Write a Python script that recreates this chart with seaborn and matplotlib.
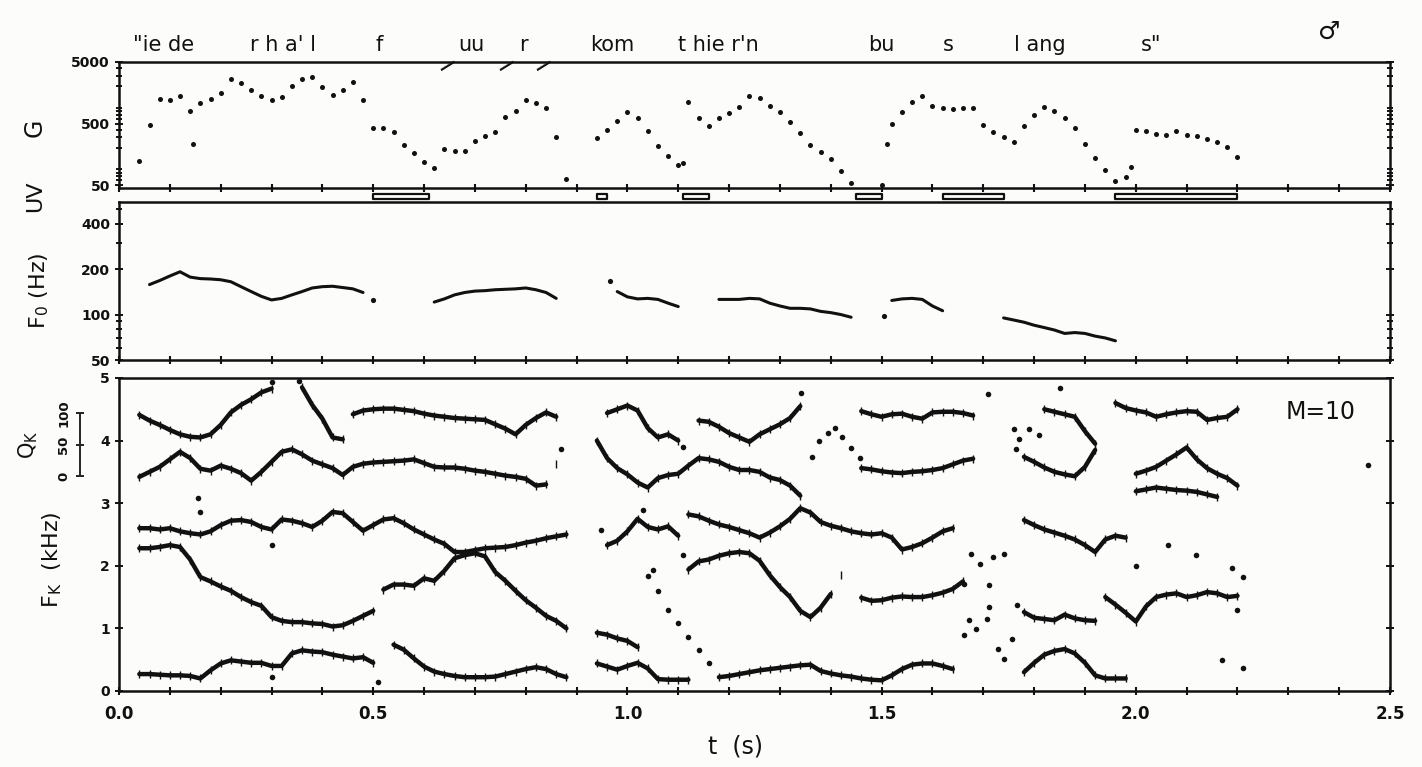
import numpy as np
import pandas as pd
import matplotlib
matplotlib.use("Agg")
import matplotlib.pyplot as plt
import matplotlib.ticker as mticker
import matplotlib.transforms as mtrans
import seaborn as sns

nan = np.nan
# sampling grid (s)
T = np.round(np.arange(0.04, 2.2001, 0.02), 2)

# ---------------- G (gain) ----------------
G_vals = [125, 470, 1250, 1200, 1400, 790, 1080, 1250, 1580, 2600,
          2300, 1780, 1400, 1200, 1330, 2000, 2650, 2850, 1950, 1450,
          1780, 2400, 1200, 430, 420, 360, 225, 165, 118, 95,
          190, 180, 180, 265, 310, 370, 640, 810, 1220, 1080,
          900, 300, 63, nan, nan, 290, 400, 560, 760, 620,
          380, 220, 150, 108, 1100, 605, 450, 605, 730, 940,
          1380, 1280, 970, 760, 540, 355, 225, 170, 135, 85,
          54, nan, nan, 51, 500, 760, 1120, 1400, 960, 890,
          850, 880, 900, 480, 370, 300, 250, 450, 700, 920,
          790, 605, 430, 232, 140, 88, 59, 68, 400, 380,
          340, 330, 380, 330, 310, 285, 255, 208, 141]
g_stray_t = [0.145, 1.11, 1.51, 1.99]
g_stray_v = [232, 115, 232, 100]

# unvoiced intervals (s)
uv_start = [0.50, 0.94, 1.11, 1.45, 1.62, 1.96]
uv_end = [0.61, 0.96, 1.16, 1.50, 1.74, 2.20]

# ---------------- F0 (Hz) ----------------
F0_vals = [nan, 158, 168, 180, 192, 177, 173, 172, 170, 165,
           153, 142, 132, 125, 128, 135, 142, 150, 153, 154,
           151, 148, 140, nan, nan, nan, nan, nan, nan, 121,
           127, 135, 140, 143, 144, 146, 147, 148, 150, 146,
           140, 128, nan, nan, nan, nan, nan, 142, 131, 127,
           128, 126, 119, 113, nan, nan, nan, 126, 126, 126,
           128, 127, 119, 114, 110, 110, 109, 105, 103, 100,
           96, nan, nan, nan, 124, 127, 128, 126, 114, 106,
           nan, nan, nan, nan, nan, 95, 92, 89, 85, 82,
           79, 75, 76, 75, 72, 70, 67, nan, nan, nan,
           nan, nan, nan, nan, nan, nan, nan, nan, nan]
f0_stray_t = [0.50, 0.965, 1.505]
f0_stray_v = [125, 166, 98]

# ---------------- formant tracks (kHz) ----------------
track1 = [0.27, 0.27, 0.26, 0.25, 0.25, 0.24, 0.20, 0.33, 0.44, 0.49,
          0.47, 0.45, 0.45, 0.40, 0.40, 0.60, 0.65, 0.63, 0.62, 0.58,
          0.55, 0.52, 0.54, 0.45, nan, 0.74, 0.66, 0.52, 0.39, 0.31,
          0.27, 0.24, 0.22, 0.22, 0.22, 0.23, 0.27, 0.31, 0.35, 0.38,
          0.35, 0.27, 0.22, nan, nan, 0.44, 0.39, 0.34, 0.40, 0.45,
          0.36, 0.19, 0.18, 0.18, 0.18, nan, nan, 0.22, 0.24, 0.27,
          0.30, 0.33, 0.35, 0.37, 0.39, 0.41, 0.42, 0.32, 0.28, 0.25,
          0.23, 0.20, 0.18, 0.17, 0.25, 0.35, 0.42, 0.44, 0.44, 0.40,
          0.35, nan, nan, nan, nan, nan, nan, 0.30, 0.45, 0.58,
          0.64, 0.67, 0.60, 0.45, 0.25, 0.20, 0.20, 0.20, nan, nan,
          nan, nan, nan, nan, nan, nan, nan, nan, nan]
track2 = [2.28, 2.28, 2.30, 2.33, 2.30, 2.10, 1.82, 1.75, 1.67, 1.60,
          1.50, 1.42, 1.36, 1.18, 1.12, 1.10, 1.10, 1.08, 1.07, 1.03,
          1.05, 1.12, 1.20, 1.28, 1.62, 1.70, 1.70, 1.68, 1.80, 1.76,
          1.92, 2.12, 2.17, 2.20, 2.15, 1.90, 1.76, 1.60, 1.45, 1.33,
          1.20, 1.12, 1.00, nan, nan, 0.93, 0.90, 0.84, 0.80, 0.70,
          nan, nan, nan, nan, 1.94, 2.07, 2.10, 2.16, 2.20, 2.22,
          2.20, 2.08, 1.85, 1.66, 1.50, 1.28, 1.18, 1.33, 1.55, 1.85,
          nan, 1.49, 1.44, 1.45, 1.49, 1.51, 1.50, 1.50, 1.53, 1.57,
          1.63, 1.75, nan, nan, nan, nan, nan, 1.26, 1.17, 1.15,
          1.13, 1.22, 1.16, 1.13, 1.12, 1.50, 1.38, 1.25, 1.11, 1.35,
          1.50, 1.54, 1.56, 1.50, 1.53, 1.58, 1.56, 1.50, 1.52]
track3 = [2.60, 2.60, 2.58, 2.60, 2.55, 2.52, 2.50, 2.55, 2.65, 2.72,
          2.73, 2.70, 2.62, 2.58, 2.74, 2.72, 2.68, 2.62, 2.72, 2.86,
          2.84, 2.70, 2.56, 2.65, 2.74, 2.76, 2.68, 2.58, 2.50, 2.42,
          2.35, 2.22, 2.22, 2.25, 2.28, 2.29, 2.30, 2.33, 2.37, 2.40,
          2.44, 2.47, 2.50, nan, nan, nan, 2.33, 2.40, 2.55, 2.75,
          2.62, 2.58, 2.63, 2.48, 2.82, 2.79, 2.72, 2.66, 2.62, 2.57,
          2.52, 2.45, 2.53, 2.63, 2.75, 2.92, 2.85, 2.70, 2.64, 2.60,
          2.55, 2.52, 2.50, 2.52, 2.45, 2.26, 2.30, 2.36, 2.45, 2.55,
          2.60, nan, nan, nan, nan, nan, nan, 2.73, 2.65, 2.58,
          2.53, 2.48, 2.42, 2.33, 2.22, 2.42, 2.48, 2.45, 3.47, 3.52,
          3.58, 3.68, 3.78, 3.89, 3.70, 3.56, 3.47, 3.40, 3.28]
track4 = [3.42, 3.50, 3.58, 3.70, 3.82, 3.72, 3.55, 3.52, 3.60, 3.55,
          3.48, 3.36, 3.50, 3.66, 3.82, 3.86, 3.78, 3.68, 3.62, 3.56,
          3.45, 3.58, 3.63, 3.65, 3.66, 3.67, 3.68, 3.70, 3.64, 3.58,
          3.57, 3.57, 3.55, 3.52, 3.50, 3.47, 3.44, 3.42, 3.39, 3.28,
          3.30, 3.62, nan, nan, nan, 4.00, 3.72, 3.56, 3.46, 3.33,
          3.25, 3.40, 3.45, 3.47, 3.60, 3.72, 3.70, 3.66, 3.58, 3.53,
          3.53, 3.50, 3.41, 3.37, 3.28, 3.12, nan, nan, nan, nan,
          nan, 3.56, 3.54, 3.51, 3.49, 3.48, 3.50, 3.51, 3.53, 3.56,
          3.62, 3.68, 3.71, nan, nan, nan, nan, 3.74, 3.66, 3.57,
          3.50, 3.46, 3.43, 3.58, 3.85, nan, nan, nan, 3.19, 3.22,
          3.25, 3.23, 3.21, 3.20, 3.18, 3.14, 3.10, nan, nan]
track5 = [4.41, 4.32, 4.25, 4.17, 4.10, 4.06, 4.05, 4.10, 4.25, 4.45,
          4.57, 4.66, 4.77, 4.83, nan, nan, 4.85, 4.57, 4.35, 4.05,
          4.02, 4.42, 4.48, 4.50, 4.51, 4.51, 4.49, 4.47, 4.43, 4.40,
          4.38, 4.36, 4.35, 4.34, 4.33, 4.26, 4.19, 4.10, 4.25, 4.36,
          4.45, 4.38, nan, nan, nan, nan, 4.44, 4.50, 4.56, 4.48,
          4.20, 4.05, 4.10, 4.00, nan, 4.32, 4.30, 4.22, 4.12, 4.05,
          3.98, 4.10, 4.18, 4.26, 4.36, 4.55, nan, nan, nan, nan,
          nan, 4.47, 4.42, 4.38, 4.42, 4.43, 4.38, 4.35, 4.45, 4.46,
          4.46, 4.44, 4.40, nan, nan, nan, nan, nan, nan, 4.50,
          4.46, 4.42, 4.38, 4.15, 3.95, nan, 4.60, 4.52, 4.48, 4.45,
          4.38, 4.42, 4.45, 4.47, 4.46, 4.33, 4.36, 4.38, 4.50]
fk_stray_t = [0.155, 0.16, 0.30, 0.30, 0.30, 0.355, 0.51, 0.87, 0.948, 1.03, 1.05, 1.11, 1.11,
              1.04, 1.06, 1.08, 1.10, 1.12, 1.14, 1.16,
              1.342, 1.364, 1.377, 1.395, 1.408, 1.422, 1.44, 1.458,
              1.662, 1.662, 1.671, 1.676, 1.685, 1.693, 1.707, 1.711, 1.711, 1.72, 1.729, 1.74, 1.74, 1.756, 1.766,
              1.71, 1.76, 1.765, 1.77, 1.79, 1.81, 1.85,
              2.0, 2.063, 2.118, 2.17, 2.19, 2.21, 2.21, 2.2, 2.457]
fk_stray_v = [3.08, 2.86, 2.33, 0.22, 4.93, 4.95, 0.15, 3.86, 2.57, 2.89, 1.94, 3.90, 2.18,
              1.83, 1.59, 1.30, 1.09, 0.87, 0.66, 0.45,
              4.76, 3.73, 4.00, 4.12, 4.20, 4.06, 3.88, 3.72,
              0.89, 1.71, 1.13, 2.19, 0.99, 2.03, 1.15, 1.34, 1.69, 2.14, 0.67, 2.19, 0.51, 0.83, 1.37,
              4.74, 4.18, 3.86, 4.03, 4.18, 4.09, 4.84,
              2.0, 2.33, 2.17, 0.49, 1.97, 1.82, 0.36, 1.29, 3.61]

# transcription above the plot
words = ['"ie de', "r h a' l", 'f', 'uu', 'r', 'kom', "t hie r'n", 'bu', 's', 'l ang', 's"']
word_t = [0.027, 0.258, 0.505, 0.668, 0.787, 0.926, 1.10, 1.474, 1.62, 1.76, 2.01]

g_ticks, g_labels = [50, 500, 5000], ['50', '500', '5000']
f0_ticks, f0_labels = [50, 100, 200, 400], ['50', '100', '200', '400']
fk_ticks = [0, 1, 2, 3, 4, 5]
q_ticks = [0, 50, 100]


def segments(t, v, jump=None):
    rows, seg, prev = [], 0, None
    for ti, vi in zip(t, v):
        if np.isnan(vi):
            prev = None
            continue
        if prev is None or (jump is not None and abs(vi - prev) > jump):
            seg += 1
        rows.append((ti, vi, seg))
        prev = vi
    return pd.DataFrame(rows, columns=["t", "v", "seg"])


sns.set_theme(style="ticks")
plt.rcParams["font.family"] = ["DejaVu Sans"]
INK = "#111111"
BG = "#fcfcfa"

fig = plt.figure(figsize=(14.22, 7.67), dpi=100)
fig.patch.set_facecolor(BG)
L, W = 119 / 1422, 1271 / 1422
axG = fig.add_axes([L, 0.7549, W, 0.1643])
axUV = fig.add_axes([L, 0.7366, W, 0.0183])
axF0 = fig.add_axes([L, 0.5306, W, 0.2066])
axFK = fig.add_axes([L, 0.0991, W, 0.4081])

xt = np.round(np.arange(0, 2.5001, 0.1), 1)
for ax in (axG, axF0, axFK):
    ax.set_facecolor(BG)
    ax.set_xlim(0, 2.5)
    for s in ax.spines.values():
        s.set_visible(True)
        s.set_linewidth(1.8)
        s.set_color(INK)
    ax.xaxis.set_major_locator(mticker.FixedLocator(xt))
    ax.tick_params(axis="x", direction="inout", length=6, width=1.5, color=INK,
                   top=False, labelbottom=False)
    ax.tick_params(axis="y", which="both", direction="inout", color=INK,
                   left=True, right=True, width=1.4, labelsize=10)
    ax.tick_params(axis="y", which="major", length=6)
    ax.tick_params(axis="y", which="minor", length=4)

# ---- G panel
dG = pd.DataFrame({"t": T, "v": G_vals}).dropna()
sns.scatterplot(data=dG, x="t", y="v", s=13, color=INK, linewidth=0, ax=axG, legend=False)
sns.scatterplot(x=g_stray_t, y=g_stray_v, s=13, color=INK, linewidth=0, ax=axG, legend=False)
axG.set_yscale("log")
axG.set_ylim(45, 5000)
axG.yaxis.set_major_locator(mticker.FixedLocator(g_ticks))
axG.yaxis.set_major_formatter(mticker.FixedFormatter(g_labels))
axG.yaxis.set_minor_locator(mticker.LogLocator(base=10, subs=np.arange(2, 10)))
axG.yaxis.set_minor_formatter(mticker.NullFormatter())
trTop = mtrans.blended_transform_factory(axG.transData, axG.transAxes)
for tt in (0.647, 0.763, 0.836):
    axG.text(tt, 0.97, "\u2014", transform=trTop, rotation=32, fontsize=13,
             fontweight="bold", color=INK, ha="center", va="center")

# ---- UV strip
axUV.set_xlim(0, 2.5)
axUV.set_ylim(0, 1)
axUV.axis("off")
axUV.broken_barh([(s, e - s) for s, e in zip(uv_start, uv_end)], (0.2, 0.35),
                 facecolors=BG, edgecolors=INK, linewidth=1.6)

# ---- F0 panel
dF0 = segments(T, F0_vals)
sns.lineplot(data=dF0, x="t", y="v", units="seg", estimator=None, color=INK, lw=2.2,
             ax=axF0, legend=False)
sns.scatterplot(x=f0_stray_t, y=f0_stray_v, s=14, color=INK, linewidth=0, ax=axF0, legend=False)
axF0.set_yscale("log")
axF0.set_ylim(50, 560)
axF0.yaxis.set_major_locator(mticker.FixedLocator(f0_ticks))
axF0.yaxis.set_major_formatter(mticker.FixedFormatter(f0_labels))
axF0.yaxis.set_minor_locator(mticker.LogLocator(base=10, subs=np.arange(2, 10)))
axF0.yaxis.set_minor_formatter(mticker.NullFormatter())

# ---- formant panel
for tr in (track1, track2, track3, track4, track5):
    d = segments(T, tr, jump=0.3)
    sns.lineplot(data=d, x="t", y="v", units="seg", estimator=None, color=INK, lw=3.2,
                 ax=axFK, legend=False)
    sns.scatterplot(data=d, x="t", y="v", marker="|", s=28, color=INK, linewidth=1.0,
                    ax=axFK, legend=False)
sns.scatterplot(x=fk_stray_t, y=fk_stray_v, s=16, color=INK, linewidth=0, ax=axFK, legend=False)
axFK.set_ylim(0, 5)
axFK.yaxis.set_major_locator(mticker.FixedLocator(fk_ticks))
axFK.tick_params(axis="x", labelbottom=True, labelsize=12, pad=7)
axFK.xaxis.set_major_formatter(mticker.FuncFormatter(
    lambda x, p: f"{x:.1f}" if abs(x * 2 - round(x * 2)) < 1e-6 else ""))
axFK.text(2.295, 4.45, "M=10", fontsize=17, color=INK, va="center", ha="left")

for ax in (axG, axF0, axFK):
    for lab in ax.get_yticklabels() + ax.get_xticklabels():
        lab.set_fontweight("bold")
        lab.set_color(INK)
    ax.set_xlabel("")
    ax.set_ylabel("")

# ---- Q_K scale bar
axQ = fig.add_axes([80 / 1422, 0.3794, 0.0008, 0.0821])
axQ.set_facecolor("none")
for k, s in axQ.spines.items():
    s.set_visible(k == "left")
axQ.spines["left"].set_linewidth(1.4)
axQ.set_ylim(0, 100)
axQ.set_xticks([])
axQ.set_yticks(q_ticks)
axQ.set_yticklabels([str(q) for q in q_ticks], rotation=90, va="center",
                    fontsize=9.5, fontweight="bold", color=INK)
axQ.tick_params(axis="y", direction="inout", length=6, width=1.3, pad=4, color=INK)

# ---- labels
lab_kw = dict(color=INK, rotation=90, ha="center", va="center")
fig.text(0.0246, 0.833, "G", fontsize=17, **lab_kw)
fig.text(0.0246, 0.744, "UV", fontsize=16, **lab_kw)
fig.text(0.0274, 0.621, r"F$_\mathregular{0}$ (Hz)", fontsize=16, **lab_kw)
fig.text(0.0197, 0.420, r"Q$_\mathregular{K}$", fontsize=15, **lab_kw)
fig.text(0.0366, 0.270, r"F$_\mathregular{K}$  (kHz)", fontsize=16, **lab_kw)
fig.text(0.517, 0.027, "t  (s)", fontsize=17, color=INK, ha="center", va="center")

trW = mtrans.blended_transform_factory(axG.transData, fig.transFigure)
for w, tw in zip(words, word_t):
    fig.text(tw, 0.941, w, transform=trW, fontsize=15, color=INK, ha="left", va="center")
fig.text(2.38, 0.958, "\u2642", transform=trW, fontsize=18, fontweight="bold",
         color=INK, ha="center", va="center")

fig.savefig("out.png", dpi=100, facecolor=BG)
